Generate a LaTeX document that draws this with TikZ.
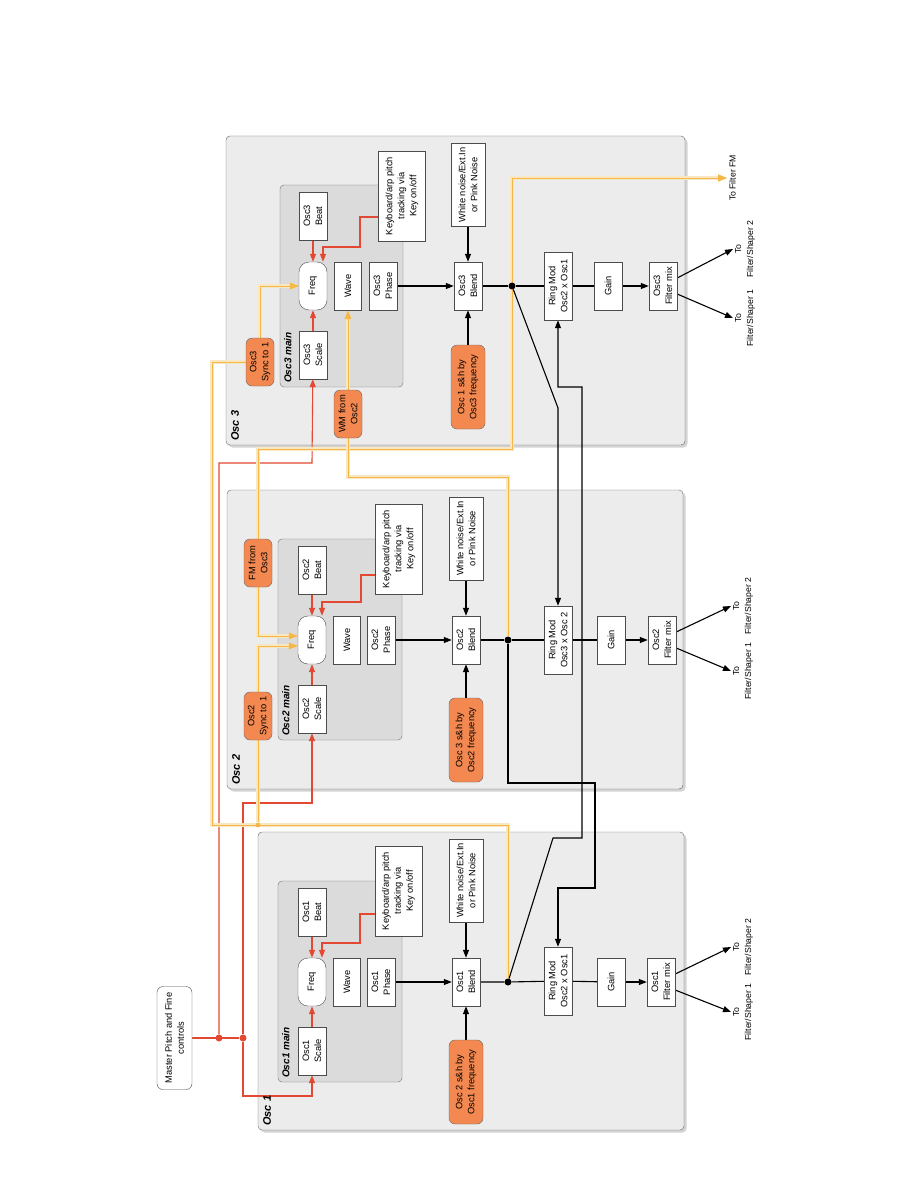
\documentclass[tikz,border=0pt]{standalone}
\usepackage{fontspec}
\setmainfont{Liberation Sans}
\usetikzlibrary{arrows.meta,calc,shadows}
\pgfdeclarelayer{panels}
\pgfdeclarelayer{wires}
\pgfsetlayers{panels,wires,main}
\definecolor{panelgray}{RGB}{236,236,236}
\definecolor{maingray}{RGB}{219,219,219}
\definecolor{modorange}{RGB}{243,137,80}
\definecolor{pitchred}{RGB}{226,72,50}
\definecolor{fmgold}{RGB}{244,184,72}
\definecolor{fmpale}{RGB}{249,231,196}
\newcommand{\boxfont}{\fontsize{9.3}{12}\selectfont}
\tikzstyle{box} = [rectangle, draw=black!70, fill=white, rotate=90, align=center, inner sep=1pt, minimum width=48, minimum height=28, font=\boxfont]
\tikzstyle{freq} = [box, rounded corners=10pt]
\tikzstyle{keybox} = [box, minimum width=90, minimum height=47]
\tikzstyle{noise} = [box, minimum width=83, minimum height=34]
\tikzstyle{ring} = [box, minimum width=68]
\tikzstyle{modbox} = [box, fill=modorange, draw=black!60, rounded corners=6pt]
\tikzstyle{shbox} = [modbox, minimum width=84, minimum height=34]
\tikzstyle{panel} = [draw=black!60, fill=panelgray, rounded corners=4pt, drop shadow={shadow xshift=2.5pt, shadow yshift=-2.5pt, opacity=0.35}]
\tikzstyle{mainpanel} = [draw=black!55, fill=maingray, rounded corners=4pt]
\tikzstyle{panellabel} = [rotate=90, anchor=north west, inner sep=2pt, font=\fontsize{11}{13}\selectfont\bfseries\itshape]
\tikzstyle{mainlabel} = [panellabel, font=\fontsize{10}{12}\selectfont\bfseries\itshape]
\tikzstyle{outlabel} = [rotate=90, anchor=north, align=center, inner sep=2pt, font=\fontsize{8.7}{12}\selectfont]
\tikzstyle{jdot} = [circle, fill=black, inner sep=0pt, minimum size=7pt]
\tikzstyle{rdot} = [jdot, fill=pitchred]
\tikzstyle{ydot} = [jdot, fill=fmgold, minimum size=5pt]
\tikzstyle{sigline} = [line width=1.1pt]
\tikzstyle{arrow} = [sigline, ->, >={Triangle[length=8pt,width=6pt]}]
\tikzstyle{redline} = [line width=1.1pt, draw=pitchred]
\tikzstyle{redarrow} = [redline, ->, >={Triangle[length=8pt,width=6pt]}]
\tikzstyle{fmline} = [line width=0.8pt, draw=fmgold, preaction={draw=fmpale, line width=3.4pt}]
\tikzstyle{fmarrow} = [fmline, ->, >={Triangle[length=9pt,width=7pt]}]

\begin{document}
\begin{tikzpicture}[x=1pt, y=-1pt]
\useasboundingbox (0,0) rectangle (918,1188);

\begin{pgfonlayer}{panels}
\draw[panel] (258,832) rectangle (684,1130);
\draw[panel] (227,490) rectangle (683,789);
\draw[panel] (226,136) rectangle (685,445);
\draw[mainpanel] (278,881) rectangle (402,1082);
\draw[mainpanel] (278,539) rectangle (402,740);
\draw[mainpanel] (280,185) rectangle (403,387);
\end{pgfonlayer}

\node[panellabel] (osc1lbl) at (261,1128) {Osc 1};
\node[panellabel] (osc2lbl) at (230,787) {Osc 2};
\node[panellabel] (osc3lbl) at (229,443) {Osc 3};
\node[mainlabel] (main1lbl) at (280,1080) {Osc1 main};
\node[mainlabel] (main2lbl) at (280,738) {Osc2 main};
\node[mainlabel] (main3lbl) at (282,385) {Osc3 main};

\node[box, rounded corners=6pt, minimum width=103, minimum height=35] (master) at (174.5,1038) {Master Pitch and Fine\\controls};
\node[rdot] (ja) at (219,1038) {};
\node[rdot] (jb) at (243,1038) {};

\node[box] (o1beat) at (312,912) {Osc1\\Beat};
\node[freq] (o1freq) at (312,982) {Freq};
\node[box] (o1scale) at (312,1051) {Osc1\\Scale};
\node[box, minimum height=27] (o1wave) at (347,982) {Wave};
\node[box] (o1phase) at (381,982) {Osc1\\Phase};
\node[keybox] (o1key) at (398.5,891) {Keyboard/arp pitch\\tracking via\\Key on/off};
\node[noise] (o1noise) at (466,880.5) {White noise/Ext.In\\or Pink Noise};
\node[box] (o1blend) at (466,982) {Osc1\\Blend};
\node[shbox] (o1sh) at (466,1082) {Osc 2 s\&h by\\Osc1 frequency};
\node[jdot] (o1dot) at (508,982) {};
\node[ring] (o1ring) at (558,981) {Ring Mod\\Osc2 x Osc1};
\node[box] (o1gain) at (611,982) {Gain};
\node[box] (o1mix) at (661,982) {Osc1\\Filter mix};
\node[outlabel] (o1to2) at (731,947) {To\\Filter/Shaper 2};
\node[outlabel] (o1to1) at (731,1012) {To\\Filter/Shaper 1};

\node[box] (o2beat) at (312,570) {Osc2\\Beat};
\node[freq] (o2freq) at (312,640) {Freq};
\node[box] (o2scale) at (312,709) {Osc2\\Scale};
\node[box, minimum height=27] (o2wave) at (347,640) {Wave};
\node[box] (o2phase) at (381,640) {Osc2\\Phase};
\node[keybox] (o2key) at (399,549) {Keyboard/arp pitch\\tracking via\\Key on/off};
\node[noise] (o2noise) at (466,538.5) {White noise/Ext.In\\or Pink Noise};
\node[box] (o2blend) at (466,640) {Osc2\\Blend};
\node[shbox] (o2sh) at (466,740) {Osc 3 s\&h by\\Osc2 frequency};
\node[jdot] (o2dot) at (508,640) {};
\node[ring] (o2ring) at (558,640) {Ring Mod\\Osc3 x Osc 2};
\node[box] (o2gain) at (611,640) {Gain};
\node[box] (o2mix) at (662,640) {Osc2\\Filter mix};
\node[outlabel] (o2to2) at (731,606) {To\\Filter/Shaper 2};
\node[outlabel] (o2to1) at (731,671) {To\\Filter/Shaper 1};
\node[modbox] (o2sync) at (258,716) {Osc2\\Sync to 1};
\node[modbox] (o2fm) at (258,563) {FM from\\Osc3};
\node[ydot] (ysync) at (258,825) {};

\node[box] (o3beat) at (313,216) {Osc3\\Beat};
\node[freq] (o3freq) at (313,286) {Freq};
\node[box] (o3scale) at (313,355) {Osc3\\Scale};
\node[box, minimum height=27] (o3wave) at (348,286) {Wave};
\node[box] (o3phase) at (383,286) {Osc3\\Phase};
\node[keybox] (o3key) at (402,196) {Keyboard/arp pitch\\tracking via\\Key on/off};
\node[noise] (o3noise) at (468,185) {White noise/Ext.In\\or Pink Noise};
\node[box] (o3blend) at (468,286) {Osc3\\Blend};
\node[shbox] (o3sh) at (468,387) {Osc 1 s\&h by\\Osc3 frequency};
\node[jdot] (o3dot) at (512,286) {};
\node[ring] (o3ring) at (558,286) {Ring Mod\\Osc2 x Osc1};
\node[box] (o3gain) at (608,286) {Gain};
\node[box] (o3mix) at (663,286) {Osc3\\Filter mix};
\node[outlabel] (o3to2) at (733,249) {To\\Filter/Shaper 2};
\node[outlabel] (o3to1) at (733,318) {To\\Filter/Shaper 1};
\node[outlabel] (tofm) at (727,178) {To Filter FM};
\node[modbox] (o3sync) at (260,362) {Osc3\\Sync to 1};
\node[modbox] (o3wm) at (348,414) {WM from\\Osc2};

\begin{pgfonlayer}{wires}
\draw[redline] (master) -- (jb);
\draw[redarrow] (ja) |- (312,463) -- (o3scale);
\draw[redarrow] (jb) |- (312,803) -- (o2scale);
\draw[redarrow] (jb) |- (312,1096) -- (o1scale);
\draw[redarrow] (o1beat) -- (o1freq);
\draw[redarrow] (o1scale) -- (o1freq);
\draw[redarrow] ($(o1key.north)+(0,23)$) -| (360,943) -| ($(o1freq.east)+(10,0)$);
\draw[redarrow] (o2beat) -- (o2freq);
\draw[redarrow] (o2scale) -- (o2freq);
\draw[redarrow] ($(o2key.north)+(0,26)$) -| (361,602) -| ($(o2freq.east)+(10,0)$);
\draw[redarrow] (o3beat) -- (o3freq);
\draw[redarrow] (o3scale) -- (o3freq);
\draw[redarrow] ($(o3key.north)+(0,21)$) -| (360,247) -| ($(o3freq.east)+(10,0)$);

\draw[fmline] (o1dot) |- (212,825) |- (o3sync);
\draw[fmline] (o2sync) -- (ysync);
\draw[fmarrow] (o2sync) |- ($(o2freq.north)+(0,6)$);
\draw[fmarrow] (o2fm) |- ($(o2freq.north)+(0,-4)$);
\draw[fmarrow] (o2fm) |- (512,449) |- (tofm);
\draw[fmarrow] (o3sync) |- (o3freq);
\draw[fmarrow] (o3wm) -- (o3wave);
\draw[fmline] (o3wm) |- (508,477) -- (o2dot);

\draw[sigline] (o1blend) -- (o1dot) -- (o1ring) -- (o1gain);
\draw[arrow] (o1gain) -- (o1mix);
\draw[arrow] (o1phase) -- (o1blend);
\draw[arrow] (o1noise) -- (o1blend);
\draw[arrow] (o1sh) -- (o1blend);
\draw[arrow] ($(o1mix.south)+(0,-8)$) -- (o1to2.north);
\draw[arrow] ($(o1mix.south)+(0,8)$) -- (o1to1.north);

\draw[sigline] (o2blend) -- (o2dot) -- (o2ring) -- (o2gain);
\draw[arrow] (o2gain) -- (o2mix);
\draw[arrow] (o2phase) -- (o2blend);
\draw[arrow] (o2noise) -- (o2blend);
\draw[arrow] (o2sh) -- (o2blend);
\draw[arrow] ($(o2mix.south)+(0,-8)$) -- (o2to2.north);
\draw[arrow] ($(o2mix.south)+(0,8)$) -- (o2to1.north);

\draw[sigline] (o3blend) -- (o3dot) -- (o3ring) -- (o3gain);
\draw[arrow] (o3gain) -- (o3mix);
\draw[arrow] (o3phase) -- (o3blend);
\draw[arrow] (o3noise) -- (o3blend);
\draw[arrow] (o3sh) -- (o3blend);
\draw[arrow] ($(o3mix.south)+(0,-8)$) -- (o3to2.north);
\draw[arrow] ($(o3mix.south)+(0,8)$) -- (o3to1.north);

\draw[arrow] (o2dot) |- (595,783) |- (558,888) -- (o1ring);
\draw[arrow] (o1dot) -- (553,838) -- (582,838) |- (558,387) -- (o3ring);
\draw[arrow] (o3dot) -- (558,408) -- (o2ring);
\end{pgfonlayer}
\end{tikzpicture}
\end{document}
